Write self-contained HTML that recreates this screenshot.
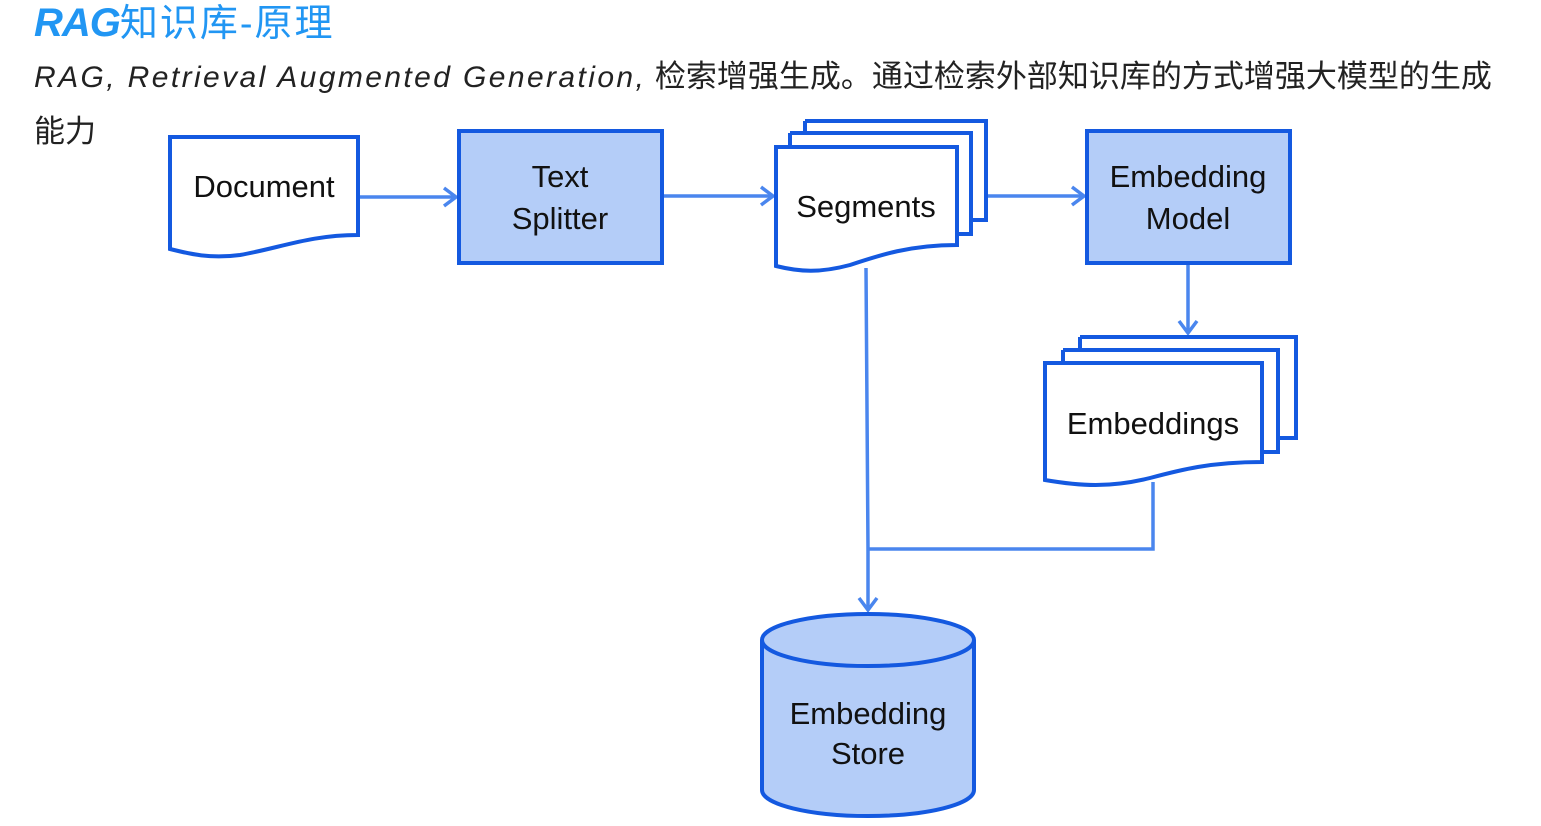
<!DOCTYPE html>
<html><head><meta charset="utf-8"><style>
html,body{margin:0;padding:0;background:#fff;width:1541px;height:826px;overflow:hidden;}
.t{position:absolute;left:34px;top:-8px;font:italic bold 40px "Liberation Sans","Noto Sans CJK SC",sans-serif;color:#2196f3;white-space:nowrap;letter-spacing:-1px}
.t span{font-style:normal;font-weight:normal;font-size:38px;letter-spacing:2px}
.s{position:absolute;left:34px;top:50px;font:31px/54px "Liberation Sans","Noto Sans CJK SC",sans-serif;color:#222;width:1500px;white-space:nowrap}
.s i{letter-spacing:2.4px;font-size:30px}
svg{position:absolute;left:0;top:0}
</style></head><body>
<div class="t">RAG<span>知识库-原理</span></div>
<div class="s"><i>RAG, Retrieval Augmented Generation,</i> 检索增强生成。通过检索外部知识库的方式增强大模型的生成<br>能力</div>
<svg width="1541" height="826" viewBox="0 0 1541 826" font-family="Liberation Sans, sans-serif" font-size="31" text-anchor="middle">
<defs><marker id="a" markerWidth="16" markerHeight="22" refX="14" refY="11" orient="auto" markerUnits="userSpaceOnUse"><path d="M2,2 L14,11 L2,20" fill="none" stroke="#4a86ee" stroke-width="3.5"/></marker></defs>
<g fill="none" stroke="#4a86ee" stroke-width="3.5">
<path d="M358,197 H456" marker-end="url(#a)"/>
<path d="M662,196 H773" marker-end="url(#a)"/>
<path d="M986,196 H1084" marker-end="url(#a)"/>
<path d="M1188,263 V333" marker-end="url(#a)"/>
<path d="M866,268 L868,549 V610" marker-end="url(#a)"/>
<path d="M1153,482 V549 H868"/>
</g>
<g stroke="#1459e0" stroke-width="4">
<path d="M170,137 H358 V235 C310,235 280,248 240,255 C210,259 190,254 170,249 Z" fill="#fff"/>
<rect x="459" y="131" width="203" height="132" fill="#b4cdf8"/>
<rect x="1087" y="131" width="203" height="132" fill="#b4cdf8"/>
<path d="M805,121 H986 V220 H971" fill="#fff"/>
<path d="M790,133 H971 V234 H957" fill="#fff"/>
<path d="M805,121 V133 M790,133 V147" fill="none"/>
<path d="M776,147 H957 V245 C910,245 880,255 850,265 C820,273 800,272 776,266 Z" fill="#fff"/>
<path d="M1080,337 H1296 V438 H1278 M1080,337 V350" fill="#fff"/>
<path d="M1063,350 H1278 V452 H1262 M1063,350 V363" fill="#fff"/>
<path d="M1045,363 H1262 V462 C1210,462 1180,470 1150,478 C1110,488 1080,486 1045,480 Z" fill="#fff"/>
<path d="M762,640 V790 A106,26 0 0 0 974,790 V640" fill="#b4cdf8"/>
<ellipse cx="868" cy="640" rx="106" ry="26" fill="#b4cdf8"/>
</g>
<g fill="#111">
<text x="264" y="197">Document</text>
<text x="560" y="187">Text</text><text x="560" y="229">Splitter</text>
<text x="866" y="217">Segments</text>
<text x="1188" y="187">Embedding</text><text x="1188" y="229">Model</text>
<text x="1153" y="434">Embeddings</text>
<text x="868" y="724">Embedding</text><text x="868" y="764">Store</text>
</g>
</svg>
</body></html>
